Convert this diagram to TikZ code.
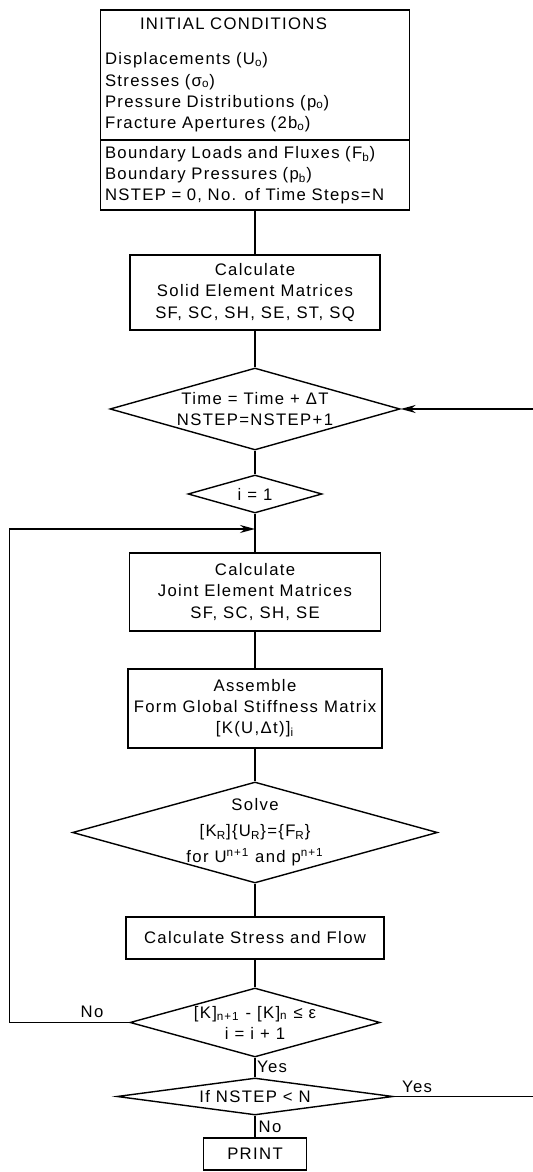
\documentclass[tikz,border=0pt]{standalone}
\usepackage{fontspec}
\setmainfont{Liberation Sans}[LetterSpace=8]
\usepackage{tikz}
\usetikzlibrary{shapes.geometric,arrows.meta}

\begin{document}
\begin{tikzpicture}[
  line width=0.8pt,
  every node/.style={font=\fontsize{9.5}{12}\selectfont},
  block/.style={draw, rectangle, align=center, inner sep=0pt},
  decision/.style={draw, diamond, align=center, inner sep=-1.5mm},
  listbox/.style={draw, anchor=north, minimum width=6.18cm, text width=6.0cm,
                  inner xsep=0.09cm, outer sep=0pt, align=left},
  tag/.style={inner sep=0pt},
  back/.style={-{Stealth[length=3mm,width=1.6mm]}}]

  \useasboundingbox (0,0) rectangle (10.64,23.44);

  \node[listbox, minimum height=2.6cm] (init) at (5.1,23.24)
    {\hspace*{0.7cm}INITIAL CONDITIONS\\[0.28cm]
     Displacements (U\textsubscript{o})\\
     Stresses (σ\textsubscript{o})\\
     Pressure Distributions (p\textsubscript{o})\\
     Fracture Apertures (2b\textsubscript{o})};
  \node[listbox, minimum height=1.4cm] (bound) at (init.south)
    {Boundary Loads and Fluxes (F\textsubscript{b})\\
     Boundary Pressures (p\textsubscript{b})\\
     NSTEP = 0, No. of Time Steps=N};

  \node[block, minimum width=5.0cm, minimum height=1.5cm] (solid) at (5.1,17.59)
    {Calculate\\Solid Element Matrices\\SF, SC, SH, SE, ST, SQ};
  \node[decision, aspect=3.54, minimum width=5.8cm, minimum height=1.64cm] (time) at (5.1,15.26)
    {Time = Time + ΔT\\NSTEP=NSTEP+1};
  \node[decision, aspect=3.53, minimum width=2.68cm, minimum height=0.76cm] (i1) at (5.1,13.56)
    {i = 1};
  \coordinate (join) at (5.1,12.86);
  \node[block, minimum width=5.02cm, minimum height=1.56cm] (joint) at (5.1,11.60)
    {Calculate\\Joint Element Matrices\\SF, SC, SH, SE};
  \node[block, minimum width=5.08cm, minimum height=1.58cm] (assemble) at (5.1,9.27)
    {Assemble\\Form Global Stiffness Matrix\\{}[K(U,Δt)]\textsubscript{i}};
  \node[decision, aspect=3.61, minimum width=7.3cm, minimum height=2.02cm] (solve) at (5.1,6.79)
    {Solve\\[0.1cm]
     [K\textsubscript{R}]\{U\textsubscript{R}\}=\{F\textsubscript{R}\}\\[0.1cm]
     for U\textsuperscript{n+1} and p\textsuperscript{n+1}};
  \node[block, minimum width=5.16cm, minimum height=0.84cm] (stress) at (5.1,4.68)
    {Calculate Stress and Flow};
  \node[decision, aspect=3.62, minimum width=5.0cm, minimum height=1.38cm] (conv) at (5.1,2.99)
    {[K]\textsubscript{n+1} - [K]\textsubscript{n} ≤ ε\\i = i + 1};
  \node[decision, aspect=7.46, minimum width=5.52cm, minimum height=0.74cm] (nstep) at (5.1,1.51)
    {If NSTEP < N};
  \node[block, minimum width=2.06cm, minimum height=0.64cm] (print) at (5.1,0.36)
    {PRINT};

  \draw (bound) -- (solid);
  \draw (solid) -- (time);
  \draw (time) -- (i1);
  \draw (i1) -- (joint);
  \draw (joint) -- (assemble);
  \draw (assemble) -- (solve);
  \draw (solve) -- (stress);
  \draw (stress) -- (conv);
  \draw (conv) -- (nstep);
  \draw (nstep) -- (print);

  \draw[back] (conv.west) -- ++(-2.4,0) |- (join);
  \draw[back] (nstep.east) -- ++(2.83,0) |- (time.east);

  \node[tag] (no1) at (1.84,3.2) {No};
  \node[tag] (yes1) at (5.44,2.1) {Yes};
  \node[tag] (yes2) at (8.34,1.7) {Yes};
  \node[tag] (no2) at (5.4,0.9) {No};
\end{tikzpicture}
\end{document}
